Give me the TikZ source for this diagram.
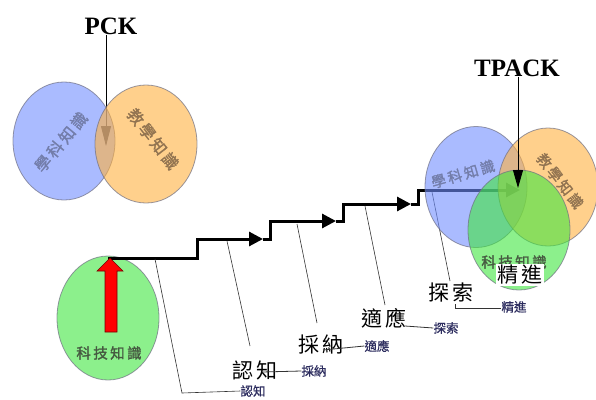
\documentclass[tikz,border=0pt]{standalone}
\usepackage{fontspec}
\setmainfont{Liberation Serif}
\newfontfamily\cjk{Noto Sans CJK TC}
\newfontfamily\cjkheavy[FakeBold=1.6]{Noto Sans CJK TC}
\newfontfamily\cjkmid[FakeBold=0.8]{Noto Sans CJK TC}
\usetikzlibrary{arrows.meta,shapes.geometric}

\definecolor{cblue}{RGB}{113,142,255}
\definecolor{corange}{RGB}{255,177,63}
\definecolor{cgreen}{RGB}{63,230,63}
\definecolor{ringline}{RGB}{110,110,130}
\definecolor{txtblue}{RGB}{115,125,170}
\definecolor{txtorange}{RGB}{145,115,80}
\definecolor{txtgreen}{RGB}{70,90,65}
\definecolor{smalllbl}{RGB}{45,45,95}

\tikzset{
  venn/.style={ellipse, draw=ringline, line width=0.8pt, fill opacity=0.6,
    draw opacity=0.7, inner sep=0pt},
  vennlbl/.style={inner sep=0pt, font=\cjkheavy\fontsize{14.5}{16}\selectfont},
  vennbig/.style={inner sep=0pt, font=\cjkheavy\fontsize{16}{18}\selectfont},
  stair/.style={line width=3pt, line join=miter,
    -{Triangle[length=14pt,width=14pt]}},
  leader/.style={line width=0.6pt, black!80},
  biglbl/.style={inner sep=0pt, font=\cjk\fontsize{21}{24}\selectfont},
  smlbl/.style={inner sep=0pt, text=smalllbl, font=\cjkmid\fontsize{12.5}{14}\selectfont},
  title/.style={inner sep=0pt, font=\bfseries\fontsize{25}{28}\selectfont},
}

\begin{document}
\begin{tikzpicture}[x=1pt,y=-1pt]
\useasboundingbox (0,0) rectangle (596,399);

% ---------- PCK ----------
\node[title] (pck) at (111,26) {PCK};
\draw[line width=0.8pt, -{Triangle[length=20pt,width=10pt]}]
  (pck.south -| 106,0) -- (106,146) coordinate (pcktip);

\node[venn, fill=cblue, minimum width=102pt, minimum height=118pt] (pb) at (64,141) {};
\node[venn, fill=corange, minimum width=102pt, minimum height=118pt] (po) at (146,144) {};
\node[vennbig, text=txtblue, rotate=50] at (61,142) {學\,科\,知\,識};
\node[vennbig, text=txtorange, rotate=-52] at (153,139) {教\,學\,知\,識};

% ---------- technology circle with the rising arrow ----------
\node[venn, fill=cgreen, minimum width=102pt, minimum height=124pt] (tk) at (108,318) {};
\node[vennlbl, text=txtgreen] at (109,353) {科\,技\,知\,識};

% ---------- staircase ----------
\coordinate (s0) at (108,258);
\coordinate (s1) at (263,239);
\coordinate (s2) at (336,221);
\coordinate (s3) at (411,204);
\coordinate (s4) at (520,190);
\draw[stair] (s0) -- (197,258) -- (197,239) -- (s1);
\draw[stair] (s1) -- (270,239) -- (270,221) -- (s2);
\draw[stair] (s2) -- (343,221) -- (343,204) -- (s3);
\draw[stair] (s3) -- (418,204) -- (418,190) -- (s4);

\fill[red, draw=red!45!black, line width=0.6pt]
  (105,332) -- (105,271) -- (97,271) -- (110,258) -- (123,271) -- (117,271) -- (117,332) -- cycle;

% ---------- labels of the stages ----------
\node[biglbl] (renzhi) at (255,370) {認\,知};
\node[biglbl] (caina) at (321,345) {採\,納};
\node[biglbl] (shiying) at (384,318) {適\,應};
\node[biglbl] (tansuo) at (451,293) {探\,索};

\node[smlbl] (renzhiS) at (253,391) {認知};
\node[smlbl] (cainaS) at (314,371) {採納};
\node[smlbl] (shiyingS) at (377,346) {適應};
\node[smlbl] (tansuoS) at (446,328) {探索};
\node[smlbl] (jingjinS) at (514,307) {精進};

% leaders from the staircase
\coordinate (l1) at (155,259);
\coordinate (l1b) at (182,393);
\draw[leader] (l1) -- (l1b) -- (renzhiS.west);
\draw[leader] (227,241) coordinate (l2) -- (250,346);
\draw[leader] (297,224) coordinate (l3) -- (317,323);
\draw[leader] (365,206) coordinate (l4) -- (385,305);
\draw[leader] (432,192) coordinate (l5) -- (450,281);

% strokes from each large label to the next small one
\draw[leader, line width=0.8pt] (262,372) -- (cainaS.west);
\draw[leader, line width=0.8pt] (323,350) -- (shiyingS.west);
\draw[leader, line width=0.8pt] (405,326) -- (tansuoS.west);
\draw[leader, line width=0.8pt] (455,304) -- (455,308) -- (jingjinS.west |- 0,308);

% ---------- TPACK ----------
\node[venn, fill=cblue, minimum width=102pt, minimum height=121pt] (tb) at (476,187) {};
\node[venn, fill=corange, minimum width=100pt, minimum height=118pt] (to) at (548,187) {};
\node[venn, fill=cgreen, minimum width=102pt, minimum height=120pt] (tg) at (519,230) {};
\node[vennlbl, text=txtblue, rotate=16] at (463,174) {學\,科\,知\,識};
\node[vennlbl, text=txtorange, rotate=-52] at (560,181) {教\,學\,知\,識};
\node[vennlbl, text=txtgreen] at (514,262) {科\,技\,知\,識};

\node[title] (tpack) at (517,68) {TPACK};
\draw[line width=0.8pt, -{Triangle[length=18pt,width=10pt]}]
  (tpack.south -| 518,0) -- (518,188);

\node[biglbl, fill=white, inner sep=1pt] (jingjin) at (520,275) {精\,進};
\end{tikzpicture}
\end{document}
